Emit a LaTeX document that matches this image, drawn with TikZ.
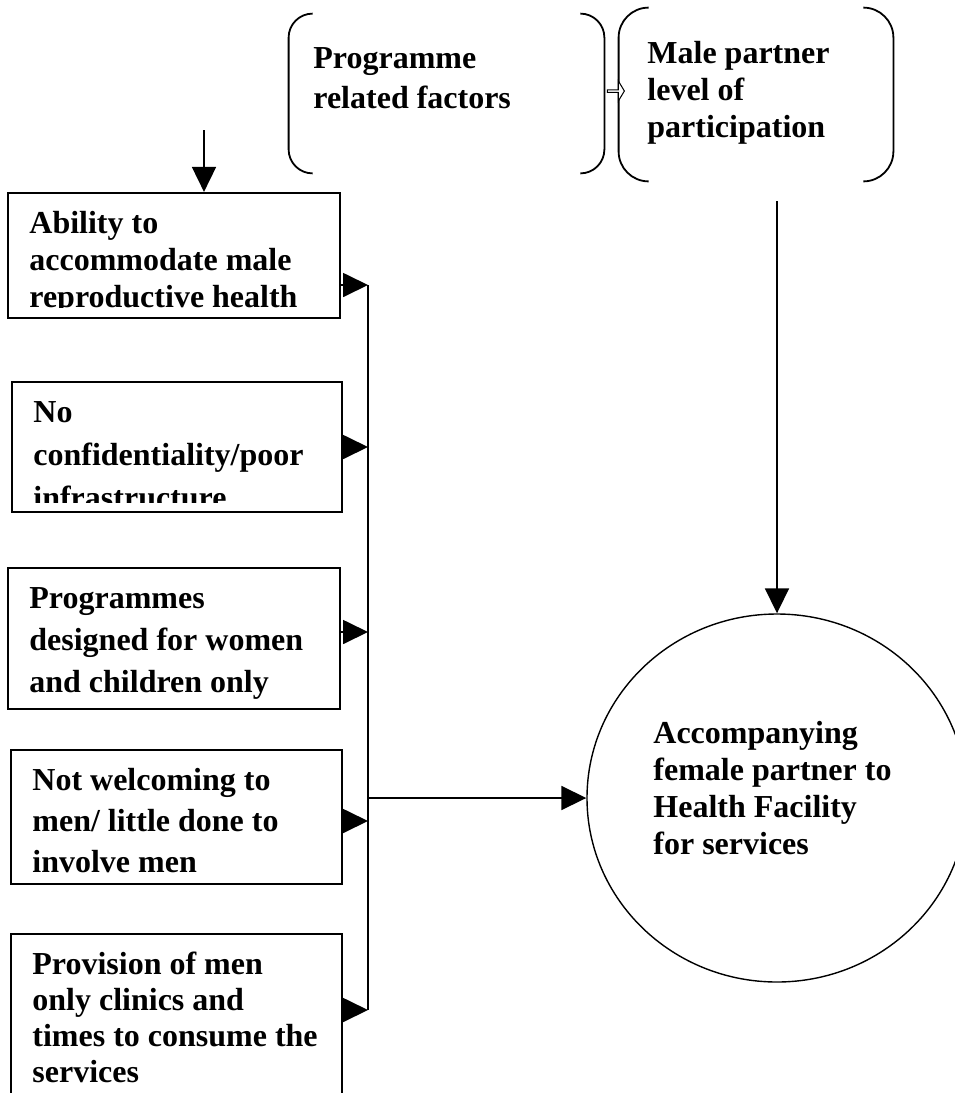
\documentclass[tikz,border=0pt]{standalone}
\usepackage{fontspec}
\setmainfont{Liberation Serif}
\usetikzlibrary{arrows.meta,fit,shapes.geometric,shapes.arrows}

\tikzset{
  factor/.style={draw, line width=1.1pt, inner sep=0pt},
  factortext/.style={anchor=north west, inner sep=0pt, align=left},
  brk/.style={inner sep=0pt},
  brace/.style={line width=0.9pt},
  trunk/.style={line width=0.9pt},
  link/.style={line width=0.9pt, -{Triangle[length=12.5pt,width=12pt]}},
}

\begin{document}
\begin{tikzpicture}[x=0.5pt, y=-0.5pt, font=\bfseries]
\useasboundingbox (0,0) rectangle (954,1093);

% the two bracketed headings
\node[brk, fit={(289,14) (604,173)}] (pf) {};
\node[factortext, font={\fontsize{16}{20}\selectfont\bfseries}] (pftext) at (313,44) {\rule{0pt}{12pt}Programme\\related factors};
\node[brk, fit={(619,8) (893,181)}] (mp) {};
\node[factortext, font={\fontsize{16}{18.5}\selectfont\bfseries}] (mptext) at (647,39) {\rule{0pt}{12pt}Male partner\\level of\\participation};
\foreach \b/\r in {pf/12pt,mp/15pt} {
  \draw[brace, rounded corners=\r] ([xshift=\r]\b.north west) -- (\b.north west) -- (\b.south west) -- ([xshift=\r]\b.south west);
  \draw[brace, rounded corners=\r] ([xshift=-\r]\b.north east) -- (\b.north east) -- (\b.south east) -- ([xshift=-\r]\b.south east);
}
\node[single arrow, draw, fill=white, line width=0.5pt, inner sep=0pt, minimum width=10pt, minimum height=8.5pt, single arrow head extend=1.75pt, single arrow tip angle=118] (link) at (615.5,91) {};

% factor boxes on the left
\foreach \n/\xa/\ya/\xb/\yb/\yc/\ls/\yj/\txt in {
  1/8/193/340/318/307/18.5/285/{Ability to\\accommodate male\\reproductive health},
  2/12/382/342/512/502/21.5/447/{No\\confidentiality/poor\\infrastructure},
  3/8/568/340/709/709/21/632/{Programmes\\designed for women\\and children only},
  4/11/750/342/884/874/20.5/821/{Not welcoming to\\men/ little done to\\involve men},
  5/11/934/342/1110/1093/18/1010/{Provision of men\\only clinics and\\times to consume the\\services}} {
  \node[factor, fit={(\xa,\ya) (\xb,\yb)}] (b\n) {};
  \begin{scope}
    \clip (\xa,\ya) rectangle (\xb,\yc);
    \node[factortext, font={\fontsize{16}{\ls}\selectfont\bfseries}] (t\n) at (\xa+21,\ya+16) {\rule{0pt}{12pt}\txt};
  \end{scope}
  \coordinate (j\n) at (368,\yj);
  \draw[link] (b\n.east |- j\n) -- (j\n);
}
\draw[trunk] (j1) -- (j5);

% outcome
\node[draw, ellipse, line width=0.7pt, inner sep=0pt, minimum width=190pt, minimum height=184pt] (goal) at (777,798) {};
\node[factortext, font={\fontsize{16}{18.5}\selectfont\bfseries}] (goaltext) at (653,719) {\rule{0pt}{12pt}Accompanying\\female partner to\\Health Facility\\for services};

\coordinate (jm) at (368,798);
\draw[link] (jm) -- (goal.west);
\coordinate (pfend) at (204,130);
\draw[link] (pfend) -- (pfend |- b1.north);
\coordinate (mpend) at (777,201);
\draw[link] (mpend) -- (goal.north);
\end{tikzpicture}
\end{document}
